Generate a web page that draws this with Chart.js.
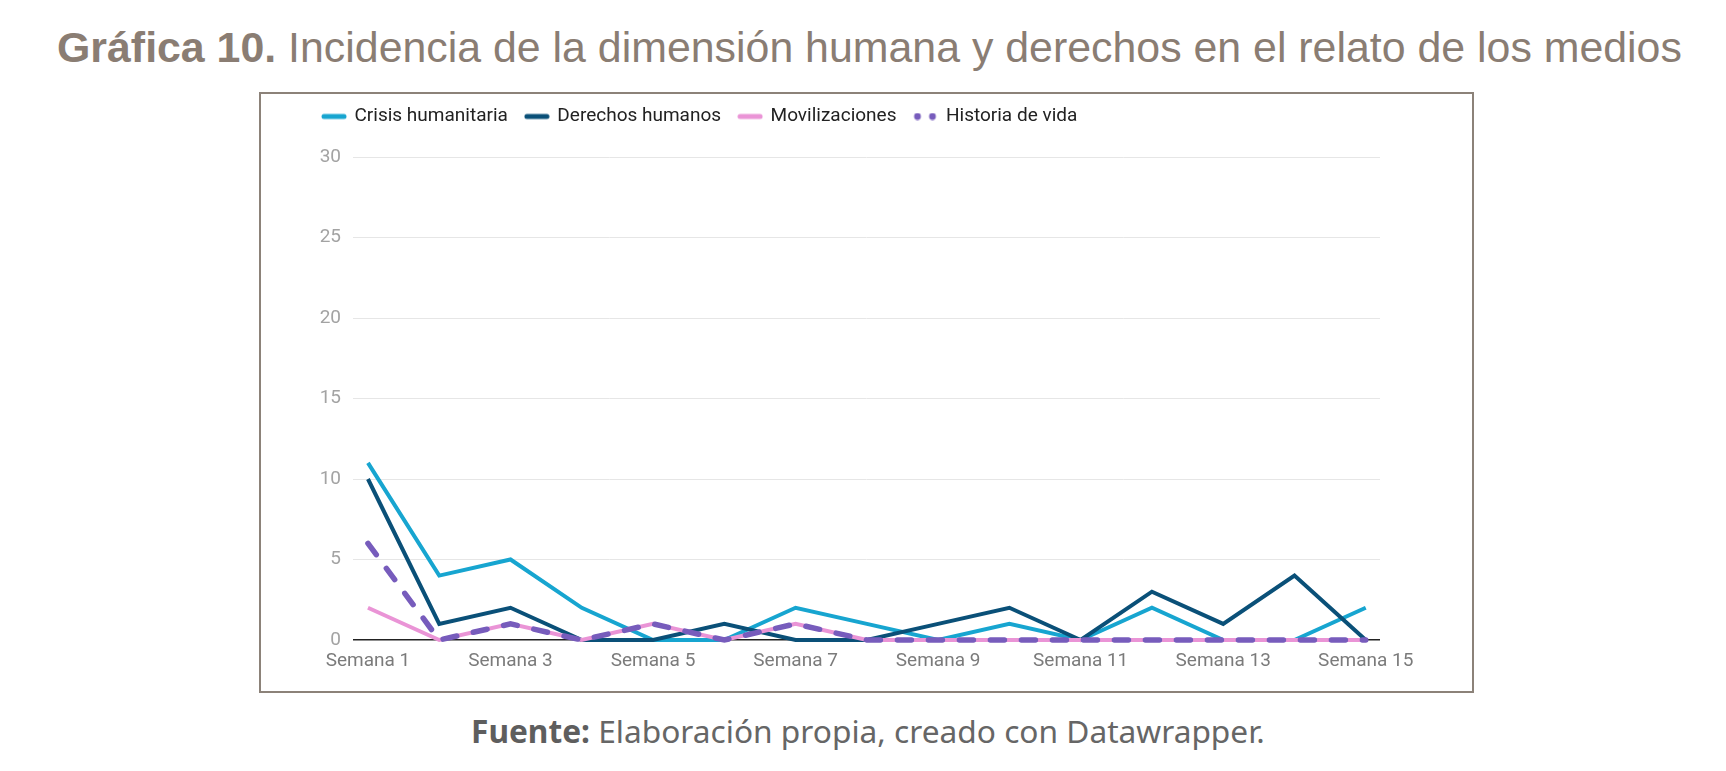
<!DOCTYPE html>
<html><head><meta charset="utf-8">
<script src="https://cdn.jsdelivr.net/npm/chart.js@4.4.0/dist/chart.umd.min.js"></script>
<style>
html,body{margin:0;padding:0;background:#fff;width:1726px;height:771px;overflow:hidden;}
#title{position:absolute;left:57px;top:26px;font-family:"Liberation Sans",Arial,sans-serif;font-size:44px;color:#8a7d73;white-space:nowrap;line-height:1;}
#title b{font-weight:bold}
#box{position:absolute;left:259px;top:92px;width:1211px;height:597px;border:2px solid #8c8279;}
#wrap{position:absolute;left:0;top:0;width:1211px;height:597px;}
#foot{position:absolute;left:471px;top:715px;font-family:"Noto Sans","Open Sans",sans-serif;font-size:30px;color:#666;white-space:nowrap;line-height:1;}
#foot b{font-weight:bold;color:#5e5e5e}
</style></head>
<body>
<div id="title"><b>Gráfica 10.</b> Incidencia de la dimensión humana y derechos en el relato de los medios</div>
<div id="box"><div id="wrap"><canvas id="c" width="1211" height="597"></canvas></div></div>
<div id="foot"><b>Fuente:</b> Elaboración propia, creado con Datawrapper.</div>
<script>
// ---- data ----
const categories = ['Semana 1','Semana 2','Semana 3','Semana 4','Semana 5','Semana 6','Semana 7','Semana 8','Semana 9','Semana 10','Semana 11','Semana 12','Semana 13','Semana 14','Semana 15'];
const crisisHumanitaria = [11,4,5,2,0,0,2,1,0,1,0,2,0,0,2];
const derechosHumanos   = [10,1,2,0,0,1,0,0,1,2,0,3,1,4,0];
const movilizaciones    = [2,0,1,0,1,0,1,0,0,0,0,0,0,0,0];
const historiaDeVida    = [6,0,1,0,1,0,1,0,0,0,0,0,0,0,0];
const seriesNames = ['Crisis humanitaria','Derechos humanos','Movilizaciones','Historia de vida'];
const yTicks = [0,5,10,15,20,25,30];
const xTickIdx = [0,2,4,6,8,10,12,14];

// fit text widths
function fitWidth(el, target){
  const w = el.getBoundingClientRect().width;
  const fs = parseFloat(getComputedStyle(el).fontSize);
  el.style.fontSize = (fs*target/w)+'px';
}
fitWidth(document.getElementById('title'), 1625);
fitWidth(document.getElementById('foot'), 794);

function marker(color, dotted){
  const c = document.createElement('canvas');
  c.width = 26; c.height = 8;
  const g = c.getContext('2d');
  g.fillStyle = color; g.strokeStyle = color;
  if(dotted){
    g.beginPath(); g.arc(5,4,3.4,0,Math.PI*2); g.fill();
    g.beginPath(); g.arc(20,4,3.4,0,Math.PI*2); g.fill();
  } else {
    g.lineWidth = 5; g.lineCap = 'round';
    g.beginPath(); g.moveTo(3,4); g.lineTo(23,4); g.stroke();
  }
  return c;
}

const colors = ['#17a5d0','#0a5078','#ea94d6','#775cbc'];
const seriesData = [crisisHumanitaria, derechosHumanos, movilizaciones, historiaDeVida];
const orders = [3,2,1,0];

const datasets = seriesData.map((arr,k)=>({
  label: seriesNames[k],
  data: arr.map((v,i)=>({x:i+1,y:v})),
  borderColor: colors[k],
  backgroundColor: colors[k],
  borderWidth: k===3?5.5:4,
  borderDash: k===3?[14,17]:[],
  borderCapStyle: k===3?'round':'butt',
  borderJoinStyle: 'miter',
  pointRadius: 0,
  tension: 0,
  fill: false,
  order: orders[k],
  clip: false
}));

new Chart(document.getElementById('c'), {
  type: 'line',
  data: { datasets },
  options: {
    responsive: false,
    animation: false,
    devicePixelRatio: 1,
    layout: { padding: { left: 44, right: 92, top: 0, bottom: 0 } },
    plugins: {
      tooltip: { enabled: false },
      legend: {
        position: 'top', align: 'start',
        labels: {
          usePointStyle: true, pointStyleWidth: 22, padding: 18,
          color: '#222',
          font: { family: 'Roboto', size: 19 },
          generateLabels: (chart) => chart.data.datasets.map((ds,i)=>({
            text: ds.label, pointStyle: marker(colors[i], i===3),
            fillStyle: colors[i], strokeStyle: colors[i], lineWidth: 0,
            hidden: false, datasetIndex: i, fontColor: '#222'
          }))
        }
      }
    },
    scales: {
      x: {
        type: 'linear', min: 0.79, max: 15.2,
        grid: { display: false, drawTicks: false },
        border: { display: false },
        afterBuildTicks: (s) => { s.ticks = xTickIdx.map(i=>({value:i+1})); },
        afterFit: (s) => { s.height = 51; },
        ticks: {
          autoSkip: false, maxRotation: 0, padding: 10,
          color: '#7b7b7b', font: { family: 'Roboto', size: 19 },
          callback: (v) => categories[v-1]
        }
      },
      y: {
        min: 0, max: 30,
        afterBuildTicks: (s) => { s.ticks = yTicks.map(v=>({value:v})); },
        afterFit: (s) => { s.width = 48; },
        grid: {
          drawTicks: false,
          color: (ctx) => ctx.tick && ctx.tick.value === 0 ? '#222222' : '#e6e6e6',
          lineWidth: (ctx) => ctx.tick && ctx.tick.value === 0 ? 1.5 : 1
        },
        border: { display: false },
        ticks: { padding: 12, color: '#a3a3a3', font: { family: 'Roboto', size: 19 } }
      }
    }
  },
  plugins: [{
    id: 'legendHeight',
    beforeInit(chart){
      if(!chart.legend) return;
      const fit = chart.legend.fit;
      chart.legend.fit = function(){ fit.bind(chart.legend)(); this.height = 63; };
    },
    afterLayout(chart){
      if(chart.legend) chart.legend.top = -5;
    }
  }]
});
</script>
</body></html>
